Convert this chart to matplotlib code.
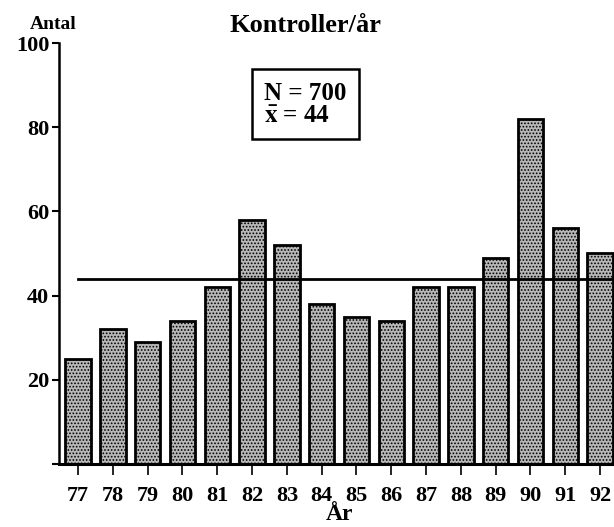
import matplotlib.pyplot as plt
import numpy as np

# data
years = [77, 78, 79, 80, 81, 82, 83, 84, 85, 86, 87, 88, 89, 90, 91, 92]
counts = [25, 32, 29, 34, 42, 58, 52, 38, 35, 34, 42, 42, 49, 82, 56, 50]
mean_value = 44
n_total = 700

plt.rcParams['font.family'] = ['Liberation Serif', 'DejaVu Serif']
plt.rcParams['font.weight'] = 'bold'
plt.rcParams['mathtext.fontset'] = 'stix'
plt.rcParams['hatch.linewidth'] = 0.8

fig = plt.figure(figsize=(6.14, 5.27), dpi=100)
ax = fig.add_axes([0.096, 0.12, 0.904, 0.798])

ax.bar(years, counts, width=0.73, color='#b8b8b8', edgecolor='black',
       linewidth=2, hatch='.....')
ax.plot([years[0], 92.4], [mean_value, mean_value], color='black', lw=2)

ax.set_xlim(76.45, 92.4)
ax.set_ylim(0, 100)
ax.spines['top'].set_visible(False)
ax.spines['right'].set_visible(False)
ax.spines['left'].set_linewidth(1.8)
ax.spines['bottom'].set_linewidth(2.2)

ax.set_yticks([0, 20, 40, 60, 80, 100])
ax.set_yticklabels(['', '20', '40', '60', '80', '100'])
ax.set_xticks(years)
ax.tick_params(axis='y', direction='out', length=5, width=1.5, labelsize=16, pad=2)
ax.tick_params(axis='x', direction='out', length=8, width=1.2, labelsize=16, pad=8)

ax.text(-0.01, 1.025, 'Antal', transform=ax.transAxes, ha='center', va='bottom',
        fontsize=14, fontweight='bold')
fig.text(0.497, 0.952, 'Kontroller/år', ha='center', va='center', fontsize=19,
         fontweight='bold')
fig.text(0.553, 0.004, 'År', ha='center', va='bottom', fontsize=17, fontweight='bold')

ax.text(0.37, 0.855, 'N = 700\n$\\mathbf{\\bar{x}}$ = 44', transform=ax.transAxes,
        ha='left', va='center', fontsize=18, fontweight='bold', linespacing=0.95,
        bbox=dict(boxstyle='square,pad=0.5', facecolor='white', edgecolor='black', lw=1.8))

fig.savefig('out.png', dpi=100)
